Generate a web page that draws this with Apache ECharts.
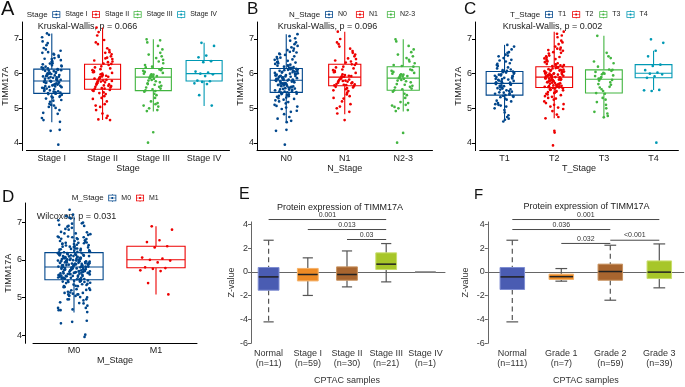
<!DOCTYPE html>
<html><head><meta charset="utf-8">
<script src="https://cdn.jsdelivr.net/npm/echarts@6/dist/echarts.min.js"></script>
<style>html,body{margin:0;padding:0;background:#fff}#c{width:685px;height:387px}</style>
</head><body><div id="c"></div>
<script>
// ---------------- DATA ----------------
const stageCats = ['Stage I','Stage II','Stage III','Stage IV'];
const stageBox = [[4.60,5.43,5.79,6.13,7.16],[4.66,5.55,5.84,6.27,7.33],[4.91,5.51,5.90,6.15,6.99],[5.07,5.79,6.00,6.38,6.89]];
const stageI = [5.62,6.21,5.08,5.93,6.48,5.77,4.87,6.02,5.44,6.66,5.31,5.86,6.13,5.52,7.05,5.69,5.97,4.95,6.34,5.58,5.83,6.09,5.24,6.57,5.73,3.95,5.9,6.27,5.47,6.01,5.36,5.66,6.43,5.8,5.13,6.18,5.55,6.82,5.75,5.99,4.66,6.05,5.41,6.39,5.88,5.64,6.11,5.19,6.6,5.7,5.94,4.38,6.24,5.5,5.84,7.12,5.61,6.07,5.28,6.52,5.78,5.92,5.01,6.15,5.45,6.3,5.81,5.68,6.03,4.72,6.45,5.57,5.96,5.34,6.74,5.72,5.87,6.1,5.22,6.2,5.49,5.79,6.93,5.63,5.98,4.61,6.36,5.53,5.85,6.0,5.39,6.55,5.74,5.91,5.1,6.16,5.43,6.62,5.82,5.67,6.08,4.84,6.29,5.59,5.95,7.16,5.33,6.42,5.76,5.89,5.04,6.23,5.48,6.7,5.71,4.35,6.12,5.42,6.88,5.65];
const stageII = [5.9,6.35,5.12,5.72,6.62,5.58,6.05,4.72,5.83,6.28,5.46,6.9,5.65,5.98,5.27,6.44,5.78,6.15,4.85,5.56,6.73,5.87,6.02,5.35,7.33,5.69,6.21,5.5,5.94,4.68,6.5,5.8,5.62,6.33,5.04,6.1,5.75,7.1,5.53,5.92,6.38,5.2,5.85,6.56,5.66,4.95,6.25,5.77,6.04,5.41,6.85,5.6,5.96,6.18,4.78,5.88,6.42,5.57,5.71,6.68,5.3,6.07,5.82,7.2,5.64,6.29,5.08,5.91,6.13,5.52,6.6,5.74,4.66,6.0,5.86,6.46,5.44,5.79,6.97,5.68];
const stageIII = [5.95,6.3,5.12,5.7,6.6,5.55,6.05,4.95,5.88,6.15,5.42,6.99,5.62,5.98,5.08,6.45,5.8,6.1,4.31,5.52,6.8,5.9,6.02,5.3,6.9,5.75,6.2,5.48,5.93,5.0,6.5,5.85,5.6,6.35,5.2,6.08,5.78,4.01,5.57,5.92,6.25,5.15,5.87,6.7,5.68,4.92,6.12,5.82,6.0,5.38,6.55,5.65,5.97,6.18,5.05,5.91,6.4,5.5,5.72,6.96];
const stageIV = [6.89,6.8,6.52,6.47,6.36,6.33,6.06,6.03,6.0,5.98,5.93,5.8,5.78,5.76,5.72,5.7,5.38,5.08];

const nCats = ['N0','N1','N2-3'];
const nBox = [[4.59,5.46,5.81,6.15,7.14],[4.83,5.65,5.90,6.27,7.21],[4.91,5.52,5.87,6.20,6.99]];
const n0 = [5.7,6.12,5.35,5.92,6.5,5.58,5.85,4.9,6.03,5.47,6.68,5.29,5.8,6.2,5.52,7.08,5.74,5.99,5.02,6.33,5.61,5.88,6.07,5.18,6.58,5.76,3.95,5.95,6.26,5.44,6.0,5.38,5.67,6.41,5.82,5.1,6.16,5.55,6.85,5.73,5.97,4.64,6.05,5.42,6.37,5.9,5.63,6.1,5.23,6.63,5.71,5.93,4.38,6.23,5.5,5.84,7.14,5.6,6.08,5.27,6.54,5.79,5.91,4.98,6.14,5.46,6.3,5.83,5.66,6.02,4.75,6.46,5.57,5.96,5.33,6.76,5.72,5.87,6.11,5.2,6.19,5.48,5.81,6.95,5.64,5.98,4.6,6.35,5.53,5.86,6.01,5.4,6.56,5.75,5.92,5.07,6.17,5.43,6.61,5.8,5.68,6.09,4.83,6.28,5.59,5.94,7.02,5.31,6.43,5.77,5.89,5.05,6.22,5.49,6.72,5.7,4.35,6.13,5.41,6.9,5.65,5.85,6.04,5.25,6.4,5.54,5.78,6.06,5.14,6.48,5.62,5.88,4.93,6.24,5.36,6.66,5.73,5.95,6.0,5.45,6.32,5.69,4.7,6.15,5.56,6.8,5.83];
const n1 = [5.92,6.3,5.45,5.78,6.6,5.68,6.05,4.9,5.86,6.25,5.55,6.9,5.72,5.98,5.3,6.44,5.82,6.15,4.66,5.62,6.72,5.88,6.02,5.4,7.21,5.75,6.2,5.66,5.94,5.05,6.5,5.8,5.7,6.35,5.2,6.1,5.77,6.85,5.6,5.91,6.38,5.35,5.85,6.55,5.67,4.85,6.27,5.79,6.04,5.5,6.78,5.64,5.96,6.18,5.12,5.89,6.42,5.58,5.74,6.65,5.28,6.08,5.83,7.0,5.69,6.32,5.0,5.93,6.12,5.52];
const n23 = [5.95,6.3,5.1,5.7,6.62,5.55,6.05,4.95,5.88,6.2,5.42,6.99,5.62,5.98,5.08,6.45,5.8,6.1,4.29,5.52,6.8,5.9,6.02,5.3,6.93,5.75,6.22,5.48,5.93,5.0,6.5,5.85,5.6,6.35,5.18,6.08,5.78,4.01,5.57,5.92,6.25,5.15,5.87,6.7,5.68,4.92,6.12,5.82,6.0,5.38,6.55,5.65,5.97,5.04,6.4];

const tCats = ['T1','T2','T3','T4'];
const tBox = [[4.64,5.38,5.72,6.06,6.83],[4.71,5.60,5.90,6.20,7.21],[4.74,5.44,5.84,6.11,7.09],[5.53,5.88,6.01,6.26,6.66]];
const t1 = [5.6,6.02,5.25,5.8,6.4,5.45,5.75,4.8,5.95,5.35,6.55,5.15,5.7,6.1,5.42,6.83,5.65,5.88,4.95,6.25,5.5,5.78,6.0,5.05,6.5,5.68,4.62,5.85,6.18,5.32,5.92,5.28,5.58,6.3,5.73,5.0,6.08,5.46,6.7,5.64,5.9,4.7,5.98,5.33,6.35,5.82,5.55,6.04,5.12,6.6,5.62,5.86,4.88,6.15,5.4,5.76,6.78,5.52,5.97,5.2,6.45,5.7,5.83,5.08,6.06,5.38,6.22,5.74,5.57,5.94,4.75,6.38,5.48,5.88,5.22,6.62,5.66,5.79,6.03,5.1,6.12,5.36,5.72,6.52,5.54,5.93,4.67,6.28,5.43,5.84];
const t2 = [5.85,6.25,5.48,5.95,6.6,5.66,5.92,5.02,6.08,5.58,6.78,5.4,5.88,6.22,5.62,7.15,5.8,6.02,5.1,6.4,5.7,5.93,6.12,5.28,6.68,5.82,3.93,6.0,6.3,5.55,6.05,5.45,5.75,6.48,5.9,5.2,6.18,5.64,6.95,5.78,6.03,4.75,6.1,5.52,6.42,5.96,5.72,6.15,5.35,6.72,5.79,5.98,4.35,6.28,5.6,5.91,7.21,5.68,6.13,5.38,6.62,5.86,5.97,5.05,6.2,5.57,6.35,5.89,5.74,6.07,4.82,6.52,5.65,6.01,5.42,6.85,5.81,5.94,6.16,5.3,6.24,5.59,5.87,7.05,5.71,6.04,4.3,6.38,5.63,5.92,6.06,5.5,6.58,5.84,5.99,5.15,6.19,5.54,6.66,5.9,5.76,6.11,4.92,6.33,5.67,6.0,7.1,5.44,6.46,5.83,5.95,5.12,6.26,5.61,6.75,5.8,4.71,6.17,5.53,6.9,5.73,5.93,6.09,5.33,6.44,5.64,5.86,6.1,5.25,6.5,5.7,5.96,4.98,6.27,5.47,6.7,5.82,6.02];
const t3 = [5.9,6.3,5.1,5.7,6.45,5.5,6.05,4.78,5.85,6.11,5.42,7.09,5.62,5.98,4.9,6.6,5.8,6.08,4.74,5.44,6.5,5.88,5.95,5.25,6.2,5.75,5.3,5.93,4.85,5.6,5.82,6.0,5.18,6.12,5.55,6.35,5.0,5.86,5.68,6.02];
const t4 = [6.99,6.89,6.66,6.5,6.26,6.22,6.1,6.03,6.0,5.98,5.92,5.88,5.53,5.5,5.52,4.01];

const mCats = ['M0','M1'];
const mBox = [[4.60,5.47,5.81,6.19,7.15],[5.08,5.79,6.00,6.36,6.89]];
const m0 = stageI.concat(stageII, stageIII);
const m1 = stageIV;

const eCats = ['Normal','Stage I','Stage II','Stage III','Stage IV'];
const eCounts = [11,59,30,21,1];
const eBox = [[-4.2,-1.54,-0.42,0.37,2.66],[-1.98,-0.76,-0.22,0.29,1.18],[-1.26,-0.70,-0.22,0.42,1.76],[-0.84,0.20,0.65,1.60,2.38],[0,0,0,0,0]];
const eSig = [[0,3,4.40],[1,3,3.56],[2,3,2.72]];
const eSigLabels = ['0.001','0.013','0.03'];

const fCats = ['Normal','Grade 1','Grade 2','Grade 3'];
const fCounts = [111,7,59,39];
const fBox = [[-4.2,-1.48,-0.42,0.37,2.66],[-0.78,-0.64,-0.40,-0.19,0.28],[-2.38,-0.70,0.03,0.65,2.24],[-1.34,-0.56,-0.02,0.92,2.35]];
const fSig = [[0,3,4.40],[0,2,3.56],[1,2,2.39],[2,3,2.66]];
const fSigLabels = ['0.001','0.036','0.032','<0.001'];

// ---------------- STYLE ----------------
const FONT = '"Liberation Sans", Arial, sans-serif';
const lancet = ['#00468B','#ED0000','#42B540','#0099B4'];
const cptacFill = ['#4A5CB2','#EE8B25','#A8652F','#A7C629','#888888'];
const cptacBorder = ['#7E8DD2','#F4B26A','#C8925F','#C9DE6C','#888888'];
const eDashed = [1,0,0,0,0];
const fDashed = [1,0,1,0];
const legendIcon = 'path://M0,1H10V9H0Z M1,2V8H9V2Z M1,4.6H9V5.4H1Z M4.6,0H5.4V1H4.6Z M4.6,9H5.4V10H4.6Z M3.9,3.9H6.1V6.1H3.9Z';

const chart = echarts.init(document.getElementById('c'), null, {renderer:'canvas', width:685, height:387});

const ggPanels = [
  {cats:stageCats, box:stageBox, pts:[stageI,stageII,stageIII,stageIV], colors:lancet, wf:0.71,
   grid:{left:21.5, top:22, width:208, height:128.6}, yOff:4.5, yMin:3.78, yMax:7.49, xName:'Stage', nameGapY:6.5},
  {cats:nCats, box:nBox, pts:[n0,n1,n23], colors:lancet, wf:0.55,
   grid:{left:257, top:22, width:175.5, height:128.6}, yOff:0, yMin:3.78, yMax:7.49, xName:'N_Stage', nameGapY:9},
  {cats:tCats, box:tBox, pts:[t1,t2,t3,t4], colors:lancet, wf:0.74,
   grid:{left:479.7, top:22, width:198.7, height:128.6}, yOff:4.7, yMin:3.78, yMax:7.49, xName:'T_Stage', nameGapY:6.5},
  {cats:mCats, box:mBox, pts:[m0,m1], colors:lancet, wf:0.71,
   grid:{left:33, top:203, width:164, height:140.3}, yOff:8, yMin:3.78, yMax:7.51, xName:'M_Stage', nameGapY:9.5}
];
const cpPanels = [
  {cats:eCats, counts:eCounts, box:eBox, sig:eSig, sigL:eSigLabels, dashed:eDashed, wf:0.53, cf:0.26,
   grid:{left:249, top:221.9, width:196, height:121.4}, yOff:-2, nameGapY:13},
  {cats:fCats, counts:fCounts, box:fBox, sig:fSig, sigL:fSigLabels, dashed:fDashed, wf:0.5, cf:0.24,
   grid:{left:487.8, top:221.9, width:196, height:121.4}, yOff:0, nameGapY:18}
];

const grids=[], xAxes=[], yAxes=[], series=[];

ggPanels.forEach((p, gi) => {
  grids.push(p.grid);
  xAxes.push({type:'category', gridIndex:gi, data:p.cats, boundaryGap:true,
    axisLine:{lineStyle:{color:'#000', width:1}},
    axisTick:{alignWithLabel:true, length:3, lineStyle:{color:'#000'}},
    axisLabel:{fontSize:9, margin:3, color:'#222', fontFamily:FONT, interval:0},
    name:p.xName, nameLocation:'middle', nameGap:13, nameTextStyle:{fontSize:9, color:'#222', fontFamily:FONT},
    splitLine:{show:false}});
  yAxes.push({type:'value', gridIndex:gi, min:p.yMin, max:p.yMax, offset:p.yOff,
    axisLine:{show:true, lineStyle:{color:'#000', width:1}},
    axisTick:{show:true, length:3, customValues:[4,5,6,7], lineStyle:{color:'#000'}},
    axisLabel:{fontSize:9, margin:3, color:'#222', fontFamily:FONT, customValues:[4,5,6,7]},
    splitLine:{show:false},
    name:'TIMM17A', nameLocation:'middle', nameGap:p.nameGapY, nameTextStyle:{fontSize:9, color:'#222', fontFamily:FONT}});
  p.cats.forEach((c, k) => {
    const col = p.colors[k];
    series.push({type:'custom', name:c, xAxisIndex:gi, yAxisIndex:gi, itemStyle:{color:col},
      data:[[k].concat(p.box[k])], encode:{x:0, y:[1,2,3,4,5]}, z:2,
      renderItem:function(params, api){
        const x=api.value(0), band=api.size([1,0])[0], w=band*p.wf;
        const lo=api.coord([x,api.value(1)]), q1=api.coord([x,api.value(2)]), md=api.coord([x,api.value(3)]),
              q3=api.coord([x,api.value(4)]), hi=api.coord([x,api.value(5)]);
        const cx=lo[0];
        return {type:'group', children:[
          {type:'line', shape:{x1:cx,y1:hi[1],x2:cx,y2:q3[1]}, style:{stroke:col,lineWidth:1.1}},
          {type:'line', shape:{x1:cx,y1:q1[1],x2:cx,y2:lo[1]}, style:{stroke:col,lineWidth:1.1}},
          {type:'rect', shape:{x:cx-w/2,y:q3[1],width:w,height:q1[1]-q3[1]}, style:{fill:'#fff',stroke:col,lineWidth:1.1}},
          {type:'line', shape:{x1:cx-w/2,y1:md[1],x2:cx+w/2,y2:md[1]}, style:{stroke:col,lineWidth:1.1}}
        ]};
      }});
    series.push({type:'custom', name:c, xAxisIndex:gi, yAxisIndex:gi, itemStyle:{color:col},
      data:p.pts[k].map(v=>[k,v]), encode:{x:0, y:1}, z:3,
      renderItem:function(params, api){
        const band=api.size([1,0])[0];
        const pt=api.coord([api.value(0), api.value(1)]);
        const j=(((params.dataIndex*0.6180339887)+0.37)%1-0.5)*0.4*band;
        return {type:'circle', shape:{cx:pt[0]+j, cy:pt[1], r:1.35}, style:{fill:col}};
      }});
  });
});

cpPanels.forEach((p, idx) => {
  const gi = 4+idx;
  grids.push(p.grid);
  xAxes.push({type:'category', gridIndex:gi, data:p.cats, boundaryGap:true,
    axisLine:{lineStyle:{color:'#666', width:1}},
    axisTick:{alignWithLabel:false, interval:0, length:3, lineStyle:{color:'#666'}},
    axisLabel:{fontSize:9, margin:5, color:'#333', fontFamily:FONT, lineHeight:10, interval:0, hideOverlap:false,
      formatter:function(v, i){ return v + '\n(n=' + p.counts[i] + ')'; }},
    name:'CPTAC samples', nameLocation:'middle', nameGap:33, nameTextStyle:{fontSize:9, color:'#333', fontFamily:FONT}});
  yAxes.push({type:'value', gridIndex:gi, min:-6, max:4.2, offset:p.yOff,
    axisLine:{show:true, lineStyle:{color:'#666', width:1}},
    axisTick:{show:true, length:3, customValues:[-6,-4,-2,0,2,4], lineStyle:{color:'#666'}},
    axisLabel:{fontSize:9, margin:3, color:'#333', fontFamily:FONT, customValues:[-6,-4,-2,0,2,4]},
    splitLine:{show:false},
    name:'Z-value', nameLocation:'middle', nameGap:p.nameGapY, nameTextStyle:{fontSize:9, color:'#333', fontFamily:FONT}});
  series.push({type:'custom', name:'box'+gi, xAxisIndex:gi, yAxisIndex:gi,
    data:p.box.map((b,i)=>[i].concat(b)), encode:{x:0, y:[1,2,3,4,5]},
    renderItem:function(params, api){
      const i=params.dataIndex;
      const x=api.value(0), band=api.size([1,0])[0], w=band*p.wf, cw=band*p.cf;
      const lo=api.coord([x,api.value(1)]), q1=api.coord([x,api.value(2)]), md=api.coord([x,api.value(3)]),
            q3=api.coord([x,api.value(4)]), hi=api.coord([x,api.value(5)]);
      const cx=lo[0];
      if (api.value(2)===api.value(4)) {
        return {type:'line', shape:{x1:cx-w/2,y1:md[1],x2:cx+w/2,y2:md[1]}, style:{stroke:cptacFill[i],lineWidth:1.5}};
      }
      const ws={stroke:'#555', lineWidth:1.2, lineDash:p.dashed[i]?[5,3.5]:null};
      return {type:'group', children:[
        {type:'line', shape:{x1:cx,y1:hi[1],x2:cx,y2:q3[1]}, style:ws},
        {type:'line', shape:{x1:cx,y1:q1[1],x2:cx,y2:lo[1]}, style:ws},
        {type:'line', shape:{x1:cx-cw/2,y1:hi[1],x2:cx+cw/2,y2:hi[1]}, style:{stroke:'#555',lineWidth:1.2}},
        {type:'line', shape:{x1:cx-cw/2,y1:lo[1],x2:cx+cw/2,y2:lo[1]}, style:{stroke:'#555',lineWidth:1.2}},
        {type:'rect', shape:{x:cx-w/2,y:q3[1],width:w,height:q1[1]-q3[1]}, style:{fill:cptacFill[i],stroke:cptacBorder[i],lineWidth:1}},
        {type:'line', shape:{x1:cx-w/2+0.5,y1:md[1],x2:cx+w/2-0.5,y2:md[1]}, style:{stroke:'#222',lineWidth:1.5}}
      ]};
    }});
  series.push({type:'custom', name:'sig'+gi, xAxisIndex:gi, yAxisIndex:gi, clip:false,
    data:p.sig, encode:{x:[0,1], y:2},
    renderItem:function(params, api){
      const a=api.coord([api.value(0), api.value(2)]), b=api.coord([api.value(1), api.value(2)]);
      return {type:'group', children:[
        {type:'line', shape:{x1:a[0],y1:a[1],x2:b[0],y2:b[1]}, style:{stroke:'#333',lineWidth:0.9}},
        {type:'text', x:(a[0]+b[0])/2, y:a[1]-1.2, style:{text:p.sigL[params.dataIndex], align:'center', verticalAlign:'bottom',
          fontSize:7, fontFamily:FONT, fill:'#333'}}
      ]};
    }});
});

function txt(t, x, y, size, opts){
  return Object.assign({type:'text', x:x, y:y, style:Object.assign({text:t, fontSize:size, fontFamily:FONT, fill:'#111',
    align:'left', verticalAlign:'middle'}, opts||{})});
}
const graphics = [
  txt('A', 1, 9.5, 20), txt('B', 247, 9.5, 17), txt('C', 464, 9.5, 17),
  txt('D', 2, 197, 17), txt('E', 239, 194.5, 16), txt('F', 474, 195, 15),
  txt('Stage', 26.7, 14.5, 8, {fill:'#222'}), txt('N_Stage', 289, 14.5, 8, {fill:'#222'}),
  txt('T_Stage', 510, 14.5, 8, {fill:'#222'}), txt('M_Stage', 71.7, 198, 8, {fill:'#222'}),
  txt('Kruskal-Wallis, p = 0.066', 87.5, 26.7, 9, {align:'center', fill:'#222'}),
  txt('Kruskal-Wallis, p = 0.096', 327.5, 26.7, 9, {align:'center', fill:'#222'}),
  txt('Kruskal-Wallis, p = 0.002', 552.5, 26.7, 9, {align:'center', fill:'#222'}),
  txt('Wilcoxon, p = 0.031', 76.5, 216.7, 9, {align:'center', fill:'#222'}),
  txt('Protein expression of TIMM17A', 340, 207.3, 9, {align:'center', fill:'#222'}),
  txt('Protein expression of TIMM17A', 586.5, 207, 9, {align:'center', fill:'#222'})
];

function leg(names, left, top, gap){
  return {data:names, left:left, top:top, orient:'horizontal', padding:0, itemGap:gap, itemWidth:10, itemHeight:8,
    icon:legendIcon, selectedMode:false, textStyle:{fontSize:7, color:'#222', fontFamily:FONT, padding:[0,0,0,-1]}};
}

chart.setOption({
  backgroundColor:'#fff',
  animation:false,
  grid:grids, xAxis:xAxes, yAxis:yAxes, series:series,
  legend:[leg(stageCats, 52.3, 10.5, 4.5), leg(nCats, 325, 10.5, 9), leg(tCats, 545, 10.5, 6), leg(mCats, 108.3, 194, 5)],
  graphic:graphics
});
</script></body></html>
